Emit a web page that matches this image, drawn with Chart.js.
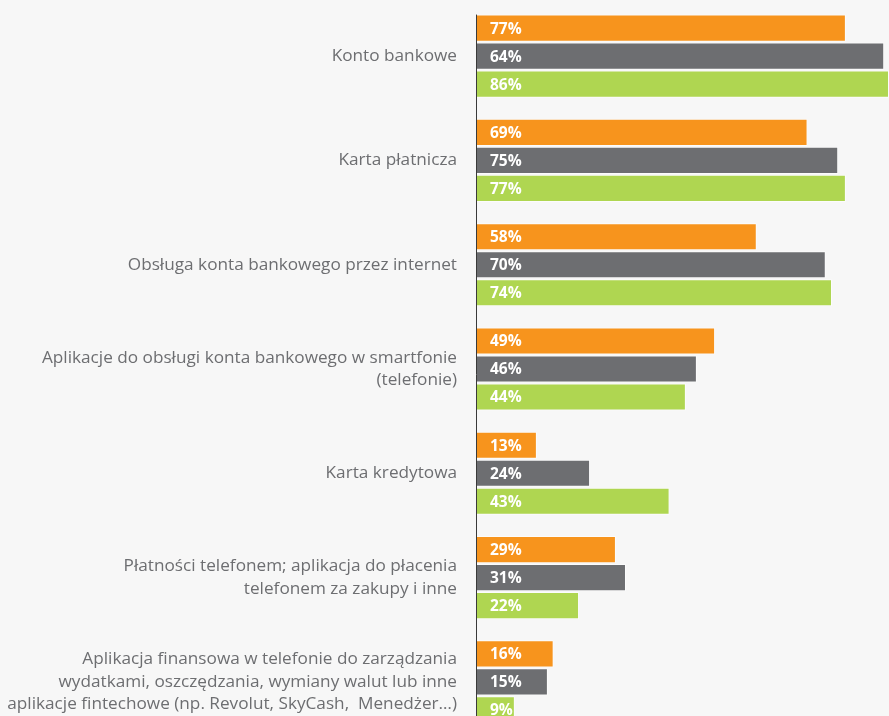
<!DOCTYPE html>
<html>
<head>
<meta charset="utf-8">
<script src="https://cdn.jsdelivr.net/npm/chart.js@4.4.1/dist/chart.umd.min.js"></script>
<style>
  html, body { margin: 0; padding: 0; background: #f7f7f7; overflow: hidden; }
  #wrap { width: 889px; height: 716px; overflow: hidden; }
</style>
</head>
<body>
<div id="wrap"><canvas id="chart" width="889" height="740"></canvas></div>
<script>
// categories (multi-line labels as drawn)
var categories = [
    ['Konto bankowe'],
    ['Karta płatnicza'],
    ['Obsługa konta bankowego przez internet'],
    ['Aplikacje do obsługi konta bankowego w smartfonie', '(telefonie)'],
    ['Karta kredytowa'],
    ['Płatności telefonem; aplikacja do płacenia', 'telefonem za zakupy i inne'],
    ['Aplikacja finansowa w telefonie do zarządzania', 'wydatkami, oszczędzania, wymiany walut lub inne', 'aplikacje fintechowe (np. Revolut, SkyCash,  Menedżer…)']
];

// bar lengths as drawn in the picture (in %)
var orangeValues = [77, 69, 58.4, 49.7, 12.5, 29, 16];
var grayValues = [85, 75.4, 72.8, 45.9, 23.6, 31.1, 14.8];
var greenValues = [86, 77, 74.1, 43.6, 40.2, 21.3, 7.9];

// printed percentages on the bars
var orangeLabels = ['77%', '69%', '58%', '49%', '13%', '29%', '16%'];
var grayLabels = ['64%', '75%', '70%', '46%', '24%', '31%', '15%'];
var greenLabels = ['86%', '77%', '74%', '44%', '43%', '22%', '9%'];

var colors = ['#f7941d', '#6d6e71', '#afd651'];

// draws the white percentage inside each bar
var barLabels = {
    id: 'barLabels',
    afterDatasetsDraw: function(chart) {
        var ctx = chart.ctx;
        ctx.save();
        ctx.fillStyle = '#ffffff';
        ctx.font = 'bold 15.5px "Open Sans"';
        ctx.textAlign = 'left';
        ctx.textBaseline = 'middle';
        chart.data.datasets.forEach(function(ds, i) {
            chart.getDatasetMeta(i).data.forEach(function(bar, j) {
                ctx.fillText(ds.printed[j], bar.base + 13, bar.y + 1);
            });
        });
        ctx.restore();
    }
};

// vertical axis line starting at the first bar
var axisLine = {
    id: 'axisLine',
    afterDatasetsDraw: function(chart) {
        var ctx = chart.ctx,
            first = chart.getDatasetMeta(0).data[0],
            x = chart.scales.x.getPixelForValue(0) - 0.5;
        ctx.save();
        ctx.strokeStyle = '#3a3a3a';
        ctx.lineWidth = 1;
        ctx.beginPath();
        ctx.moveTo(x, first.y - first.height / 2);
        ctx.lineTo(x, chart.chartArea.bottom);
        ctx.stroke();
        ctx.restore();
    }
};

function makeDataset(values, printed, color) {
    return {
        data: values,
        printed: printed,
        backgroundColor: color,
        borderColor: 'rgba(255,255,255,0.6)',
        borderWidth: 1,
        borderSkipped: 'start',
        categoryPercentage: 0.805,
        barPercentage: 0.97
    };
}

new Chart(document.getElementById('chart'), {
    type: 'bar',
    data: {
        labels: categories,
        datasets: [
            makeDataset(orangeValues, orangeLabels, colors[0]),
            makeDataset(grayValues, grayLabels, colors[1]),
            makeDataset(greenValues, greenLabels, colors[2])
        ]
    },
    options: {
        indexAxis: 'y',
        responsive: false,
        animation: false,
        layout: { padding: { top: 4, bottom: 6, right: 0, left: 0 } },
        plugins: {
            legend: { display: false },
            tooltip: { enabled: false }
        },
        scales: {
            x: {
                display: false,
                min: 0,
                max: 86
            },
            y: {
                grid: { display: false, drawTicks: false },
                border: { display: false },
                ticks: {
                    color: '#6d6e71',
                    font: { family: '"Open Sans"', size: 17.2, lineHeight: 1.3 },
                    padding: 20,
                    autoSkip: false
                },
                afterFit: function(scale) {
                    scale.width = 477;
                    scale.paddingTop = 0;
                    scale.paddingBottom = 0;
                }
            }
        }
    },
    plugins: [barLabels, axisLine]
});
</script>
</body>
</html>
